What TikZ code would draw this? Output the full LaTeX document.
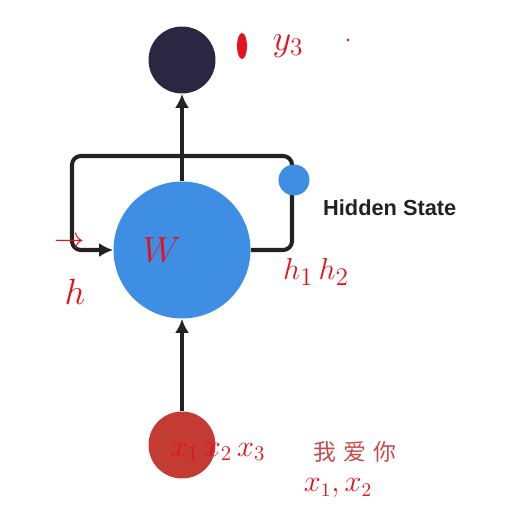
\documentclass[tikz,border=0pt]{standalone}
\usepackage{fontspec}
\setsansfont{Liberation Sans}
\newfontfamily\cjk{Noto Sans CJK SC}
\usetikzlibrary{positioning,arrows.meta}
\definecolor{outcol}{HTML}{2B2742}
\definecolor{hidcol}{HTML}{3E8FE3}
\definecolor{incol}{HTML}{C33B33}
\definecolor{pen}{HTML}{E3121C}
\definecolor{wire}{HTML}{222222}
\definecolor{cjkred}{HTML}{C84A4A}

\begin{document}
\begin{tikzpicture}[x=0.02cm, y=-0.02cm,
        unit/.style={circle, inner sep=0pt},
        wireline/.style={line width=2.3pt, wire},
        tip/.style={-{Latex[length=8pt,width=8pt]}},
        note/.style={pen, inner sep=0pt}]
    \useasboundingbox (0,0) rectangle (511,517);

    % the three units
    \node[unit, fill=outcol, minimum size=1.34cm] (out) at (182,60) {};
    \node[unit, fill=hidcol, minimum size=2.74cm] (hid) at (182,250) {};
    \node[unit, fill=incol, minimum size=1.34cm] (in) at (182,445) {};

    % recurrent loop
    \coordinate (br) at (292,250);
    \coordinate (tr) at (292,156);
    \coordinate (tl) at (72,156);
    \coordinate (bl) at (72,250);
    \draw[wireline, tip, rounded corners=5pt] (hid.east) -- (br) -- (tr) -- (tl) -- (bl) -- (hid.west);

    % feed forward
    \draw[wireline, tip] (in.north) -- (hid.south);
    \draw[wireline, tip] (hid.north) -- (out.south);

    \node[unit, fill=hidcol, minimum size=0.62cm] (state) at (294,180) {};
    \node[anchor=west, text=wire, font=\sffamily\bfseries\fontsize{12.4}{14}\selectfont] (statelbl) at (317,208) {Hidden State};

    % handwritten notes
    \fill[pen] (242,46) ellipse (5 and 13);
    \node[note, font=\fontsize{20}{22}\selectfont] (y3) at (288,46) {$y_3$};
    \fill[pen] (348,40) circle (1.5);
    \node[note, font=\fontsize{22}{24}\selectfont] (w) at (162,250) {$W$};
    \node[note, font=\fontsize{18}{20}\selectfont] (harr) at (70,243) {$\rightarrow$};
    \node[note, font=\fontsize{20}{22}\selectfont] (h) at (75,292) {$h$};
    \node[note, font=\fontsize{19}{21}\selectfont] (h12) at (316,272) {$h_1\,h_2$};
    \node[note, font=\fontsize{18}{20}\selectfont] (x123) at (218,452) {$x_1\,x_2\,x_3$};
    \node[note, font=\fontsize{16}{18}\selectfont] (x12) at (338,488) {$x_1, x_2$};
    \node[text=cjkred, font=\cjk\fontsize{13}{15}\selectfont] (zh) at (355,452) {我\hspace{0.3em}爱\hspace{0.3em}你};
\end{tikzpicture}
\end{document}
